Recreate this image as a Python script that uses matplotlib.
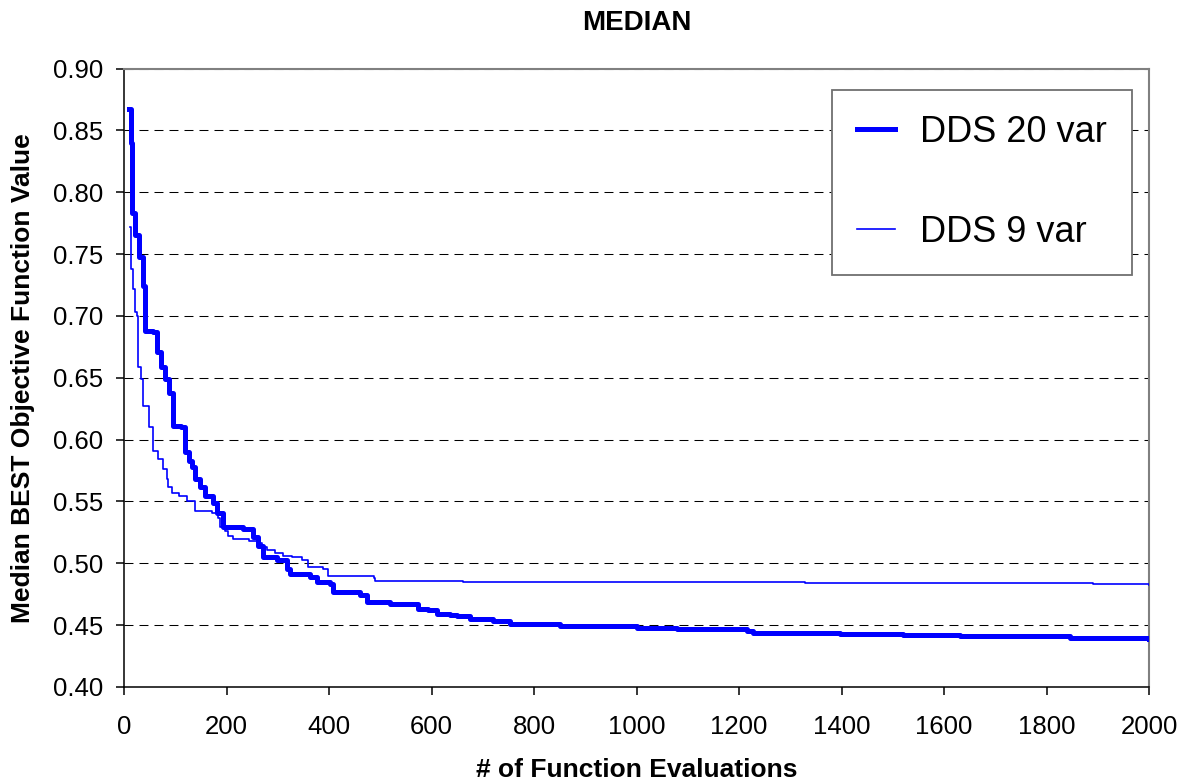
import matplotlib
matplotlib.use("Agg")
import matplotlib.pyplot as plt

plt.rcParams['font.family'] = ['Liberation Sans', 'DejaVu Sans']

# DDS 20 var (median best objective vs evaluations)
evals_20 = [10, 13, 15, 21, 30, 37, 40, 56, 64, 72, 80, 87, 95, 112, 118, 126, 133,
            139, 149, 158, 174, 182, 193, 233, 252, 261, 271, 298, 318, 324, 363,
            376, 402, 408, 460, 474, 519, 574, 594, 610, 636, 649, 675, 720, 753,
            851, 1001, 1078, 1216, 1228, 1397, 1520, 1631, 1846, 2000]
vals_20 = [0.867, 0.840, 0.783, 0.765, 0.748, 0.724, 0.688, 0.687, 0.671, 0.659,
           0.649, 0.638, 0.611, 0.610, 0.590, 0.583, 0.578, 0.568, 0.562, 0.554,
           0.549, 0.541, 0.529, 0.528, 0.521, 0.514, 0.505, 0.503, 0.495, 0.491,
           0.489, 0.485, 0.483, 0.477, 0.474, 0.469, 0.467, 0.463, 0.462, 0.459,
           0.458, 0.457, 0.455, 0.453, 0.451, 0.449, 0.448, 0.447, 0.445, 0.444,
           0.443, 0.442, 0.441, 0.440, 0.439]

# DDS 9 var
evals_9 = [11, 14, 18, 22, 25, 27, 34, 37, 47, 49, 57, 66, 76, 83, 86, 94, 107,
           123, 139, 172, 184, 188, 197, 203, 213, 233, 243, 259, 269, 278, 295,
           310, 328, 347, 359, 388, 398, 487, 490, 662, 1329, 1891, 2000]
vals_9 = [0.772, 0.738, 0.722, 0.703, 0.700, 0.659, 0.649, 0.627, 0.627, 0.610,
          0.591, 0.584, 0.576, 0.568, 0.562, 0.557, 0.554, 0.550, 0.542, 0.541,
          0.537, 0.529, 0.526, 0.522, 0.520, 0.520, 0.518, 0.516, 0.513, 0.511,
          0.508, 0.506, 0.505, 0.503, 0.497, 0.495, 0.490, 0.488, 0.486, 0.485,
          0.484, 0.483, 0.4825]

y_ticks = [0.40, 0.45, 0.50, 0.55, 0.60, 0.65, 0.70, 0.75, 0.80, 0.85, 0.90]
x_ticks = [0, 200, 400, 600, 800, 1000, 1200, 1400, 1600, 1800, 2000]

fig = plt.figure(figsize=(11.79, 7.82), dpi=100)
ax = fig.add_axes([0.1052, 0.1215, 0.8694, 0.7909])

ax.plot(evals_20, vals_20, drawstyle='steps-post', color='#0000ff', lw=3.6,
        label='DDS 20 var', zorder=3)
ax.plot(evals_9, vals_9, drawstyle='steps-post', color='#0000ff', lw=1.2,
        label='DDS 9 var', zorder=4)

ax.set_xlim(0, 2000)
ax.set_ylim(0.40, 0.90)
ax.set_xticks(x_ticks)
ax.set_yticks(y_ticks)
ax.set_yticklabels([f'{v:.2f}' for v in y_ticks])
ax.tick_params(axis='both', labelsize=18.5, direction='out', length=6, width=1.1)
ax.tick_params(axis='x', pad=14)
ax.tick_params(axis='y', pad=9)

for v in y_ticks[1:]:
    ax.axhline(v, color='black', lw=0.75, ls=(0, (8.6, 5.8)), zorder=2)

ax.spines['top'].set_color('#808080')
ax.spines['right'].set_color('#808080')
ax.spines['top'].set_linewidth(1.5)
ax.spines['right'].set_linewidth(1.5)
ax.spines['left'].set_linewidth(1.1)
ax.spines['bottom'].set_linewidth(1.1)

ax.set_title('MEDIAN', fontsize=20, fontweight='bold', pad=28)
ax.set_xlabel('# of Function Evaluations', fontsize=19, fontweight='bold', labelpad=14)
ax.set_ylabel('Median BEST Objective Function Value', fontsize=19, fontweight='bold', labelpad=13)

leg = ax.legend(loc='upper right', bbox_to_anchor=(0.9835, 0.966), borderaxespad=0,
                fontsize=26, frameon=True, fancybox=False, framealpha=1,
                edgecolor='#707070', handlelength=1.05, borderpad=0.7,
                labelspacing=1.8, handletextpad=0.7)
leg.get_frame().set_linewidth(1.3)

fig.savefig('out.png', dpi=100)
